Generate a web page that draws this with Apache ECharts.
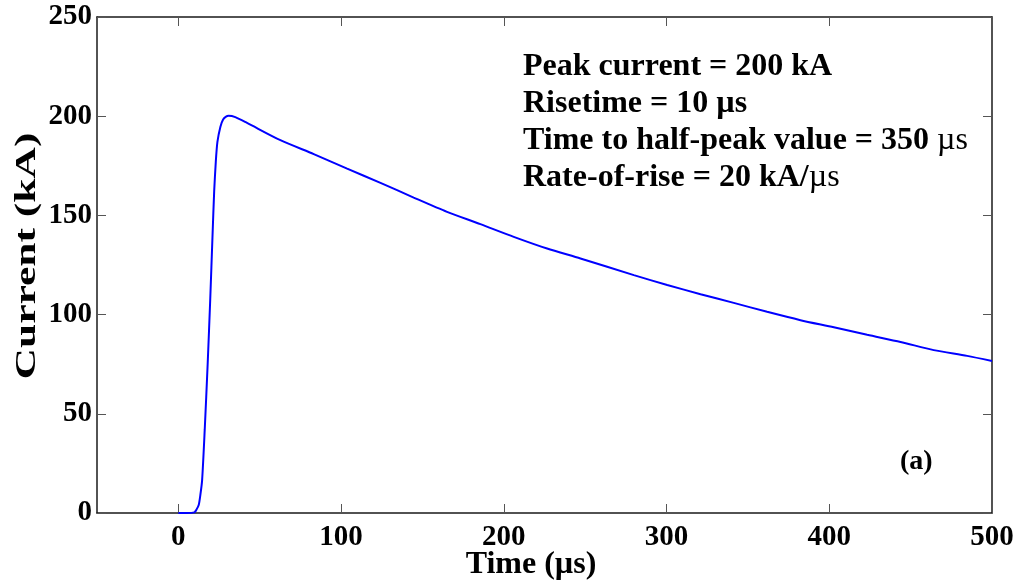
<!DOCTYPE html>
<html>
<head>
<meta charset="utf-8">
<script src="https://cdn.jsdelivr.net/npm/echarts@6/dist/echarts.min.js"></script>
<style>
  html, body { margin: 0; padding: 0; background: #fff; }
  #chart { width: 1016px; height: 585px; }
</style>
</head>
<body>
<div id="chart"></div>
<script>
// 时间 (µs) 和 电流 (kA)，从图上读出的点
const timeUs = [0, 5, 9.8, 11, 12.5, 13.5, 14.6, 16.2, 18.0, 19.6, 21.0, 22.0, 23.0, 24.0, 25.8, 27.5, 29.3, 30.9, 35,
  42.2, 62.7, 83.2, 103.7, 124.2, 144.6, 165.1, 185.6, 206.1, 226.6, 247.1, 279.9, 300.4, 320.9, 341.3, 361.8,
  382.3, 402.8, 423.3, 443.8, 464.2, 484.7, 500]
const currentKA = [0, 0, 0.3, 1.5, 4, 9, 16.6, 42, 75, 108, 140, 162, 177, 187, 194.6, 198.3, 199.8, 200.2, 199.5,
  196.6, 187.9, 180.9, 173.6, 166.4, 159.0, 151.8, 145.6, 139.2, 133.3, 128.3, 119.9, 114.9, 110.3, 105.9, 101.4,
  97.2, 93.6, 89.8, 86.2, 82.1, 79.2, 76.6]
const xTicks = [0, 100, 200, 300, 400, 500]
const yTicks = [0, 50, 100, 150, 200, 250]

const font = 'Liberation Serif'
const chart = echarts.init(document.getElementById('chart'))

const lineData = timeUs.map((t, i) => [t, currentKA[i]])

// 坐标轴的公共样式
const axisLine = { show: true, onZero: false, lineStyle: { color: '#1a1a1a', width: 1.5 } }
const tick = (vals) => ({ show: true, inside: true, length: 9, customValues: vals, lineStyle: { color: '#555', width: 1 } })
const label = { fontFamily: font, fontWeight: 'bold', fontSize: 29, color: '#000' }

const option = {
  animation: false,
  grid: { left: 97, right: 24, top: 17, bottom: 72, containLabel: false, outerBoundsMode: 'none' },
  xAxis: [
    {
      type: 'value', min: -50, max: 500,
      name: 'Time (µs)', nameLocation: 'middle', nameGap: 36, nameMoveOverlap: false,
      nameTextStyle: { fontFamily: font, fontWeight: 'bold', fontSize: 32, color: '#000', padding: [0, 27, 0, 0] },
      axisLine: axisLine,
      axisTick: tick(xTicks),
      axisLabel: Object.assign({ customValues: xTicks, margin: 10 }, label),
      splitLine: { show: false }
    },
    {
      type: 'value', min: -50, max: 500, position: 'top',
      axisLine: axisLine,
      axisTick: tick(xTicks),
      axisLabel: { show: false },
      splitLine: { show: false }
    }
  ],
  yAxis: [
    {
      type: 'value', min: 0, max: 250, interval: 50,
      axisLine: axisLine,
      axisTick: tick(yTicks),
      axisLabel: Object.assign({ margin: 5 }, label),
      splitLine: { show: false }
    },
    {
      type: 'value', min: 0, max: 250, interval: 50, position: 'right',
      axisLine: axisLine,
      axisTick: tick(yTicks),
      axisLabel: { show: false },
      splitLine: { show: false }
    }
  ],
  series: [
    {
      type: 'line',
      data: lineData,
      showSymbol: false,
      smooth: 0.25,
      lineStyle: { color: '#0000ff', width: 2 }
    }
  ],
  graphic: [
    {
      // y 轴标题，原图沿文字方向被拉长
      type: 'text', x: 27, y: 256, rotation: Math.PI / 2, scaleX: 1.45,
      style: {
        text: 'Current (kA)', x: 0, y: 0, align: 'center', verticalAlign: 'middle',
        fontFamily: font, fontWeight: 'bold', fontSize: 30, fill: '#000'
      }
    },
    {
      type: 'text', x: 523, y: 48,
      style: {
        text: '{b|Peak current = 200 kA}\n{b|Risetime = 10 µs}\n{b|Time to half-peak value = 350 }{n|µs}\n{b|Rate-of-rise = 20 kA/}{n|µs}',
        verticalAlign: 'top',
        rich: {
          b: { fontFamily: font, fontWeight: 'bold', fontSize: 32, lineHeight: 37, fill: '#000' },
          n: { fontFamily: font, fontWeight: 'normal', fontSize: 32, lineHeight: 37, fill: '#000' }
        }
      }
    },
    {
      type: 'text', x: 900, y: 462,
      style: { text: '(a)', verticalAlign: 'middle', fontFamily: font, fontWeight: 'bold', fontSize: 28, fill: '#000' }
    }
  ]
}
chart.setOption(option)
</script>
</body>
</html>
